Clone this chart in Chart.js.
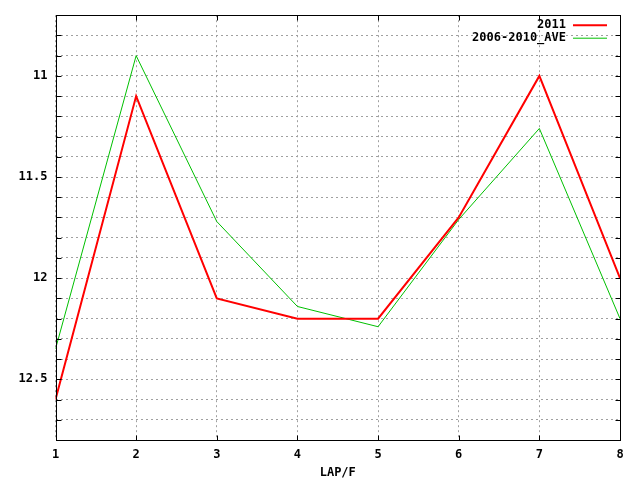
<!DOCTYPE html>
<html lang="en">
<head>
    <meta charset="UTF-8">
    <title>LAP/F</title>
    <script src="https://cdn.jsdelivr.net/npm/chart.js"></script>
    <style>
        body { margin: 0; background: #fff; }
        #wrap { width: 640px; height: 480px; }
    </style>
</head>
<body>
    <div id="wrap"><canvas id="myChart" width="640" height="480"></canvas></div>

    <script>
        // data
        const laps = [1, 2, 3, 4, 5, 6, 7, 8];
        const y2011 = [12.6, 11.1, 12.1, 12.2, 12.2, 11.7, 11.0, 12.0];
        const yAve = [12.35, 10.9, 11.72, 12.14, 12.24, 11.71, 11.26, 12.2];
        const seriesNames = ['2011', '2006-2010_AVE'];
        const yLabels = [11, 11.5, 12, 12.5];

        const monoFont = { family: 'DejaVu Sans Mono', size: 12, weight: 'bold' };

        // gnuplot-ish frame, inward ticks and legend in the top right corner
        const framePlugin = {
            id: 'frame',
            afterDraw(chart) {
                const ctx = chart.ctx;
                const a = chart.chartArea;
                const L = Math.round(a.left) + 0.5, R = Math.round(a.right) + 0.5;
                const T = Math.round(a.top) + 0.5, B = Math.round(a.bottom) + 0.5;
                ctx.save();
                ctx.strokeStyle = '#000';
                ctx.lineWidth = 1;
                ctx.strokeRect(L, T, R - L, B - T);

                ctx.beginPath();
                chart.scales.y.ticks.forEach(function (t) {
                    const y = Math.round(chart.scales.y.getPixelForValue(t.value)) + 0.5;
                    ctx.moveTo(L, y); ctx.lineTo(L + 5, y);
                    ctx.moveTo(R, y); ctx.lineTo(R - 5, y);
                });
                chart.scales.x.ticks.forEach(function (t) {
                    const x = Math.round(chart.scales.x.getPixelForValue(t.value)) + 0.5;
                    ctx.moveTo(x, B); ctx.lineTo(x, B - 5);
                    ctx.moveTo(x, T); ctx.lineTo(x, T + 5);
                });
                ctx.stroke();

                ctx.font = 'bold 12px "DejaVu Sans Mono"';
                ctx.textAlign = 'right';
                ctx.textBaseline = 'middle';
                chart.data.datasets.forEach(function (ds, i) {
                    const y = a.top + 10 + i * 13;
                    ctx.fillStyle = '#000';
                    ctx.fillText(ds.label, a.right - 54, y);
                    ctx.strokeStyle = ds.borderColor;
                    ctx.lineWidth = ds.borderWidth;
                    ctx.beginPath();
                    ctx.moveTo(a.right - 47, y);
                    ctx.lineTo(a.right - 13, y);
                    ctx.stroke();
                });
                ctx.restore();
            }
        };

        const ctx = document.getElementById('myChart').getContext('2d');
        new Chart(ctx, {
            type: 'line',
            data: {
                datasets: [{
                    label: seriesNames[0],
                    data: laps.map((x, i) => ({ x: x, y: y2011[i] })),
                    borderColor: '#ff0000',
                    borderWidth: 2,
                    pointRadius: 0,
                    tension: 0
                }, {
                    label: seriesNames[1],
                    data: laps.map((x, i) => ({ x: x, y: yAve[i] })),
                    borderColor: '#00c000',
                    borderWidth: 1,
                    pointRadius: 0,
                    tension: 0
                }]
            },
            options: {
                responsive: false,
                animation: false,
                layout: { padding: { top: 13, right: 20, left: 0, bottom: 0 } },
                plugins: {
                    legend: { display: false },
                    tooltip: { enabled: false }
                },
                scales: {
                    x: {
                        type: 'linear',
                        min: 1,
                        max: 8,
                        afterFit: function (scale) { scale.height = 40; },
                        ticks: { stepSize: 1, color: '#000', font: monoFont, maxRotation: 0, padding: 8 },
                        grid: { color: '#a0a0a0', tickLength: 0, drawTicks: false },
                        border: { display: false, dash: [2, 3] },
                        title: { display: true, text: 'LAP/F', color: '#000', font: monoFont, padding: { top: 1, bottom: 0 } }
                    },
                    y: {
                        reverse: true,
                        min: 10.7,
                        max: 12.8,
                        afterFit: function (scale) { scale.width = 55.5; },
                        afterBuildTicks: function (scale) {
                            const t = [];
                            for (let k = 107; k <= 128; k++) t.push({ value: k / 10 });
                            scale.ticks = t;
                        },
                        ticks: {
                            color: '#000',
                            font: monoFont,
                            padding: 8,
                            autoSkip: false,
                            callback: function (v) {
                                const hit = yLabels.find(l => Math.abs(l - v) < 1e-6);
                                return hit === undefined ? '' : String(hit);
                            }
                        },
                        grid: { color: '#a0a0a0', drawTicks: false },
                        border: { display: false, dash: [2, 3] }
                    }
                }
            },
            plugins: [framePlugin]
        });
    </script>
</body>
</html>
